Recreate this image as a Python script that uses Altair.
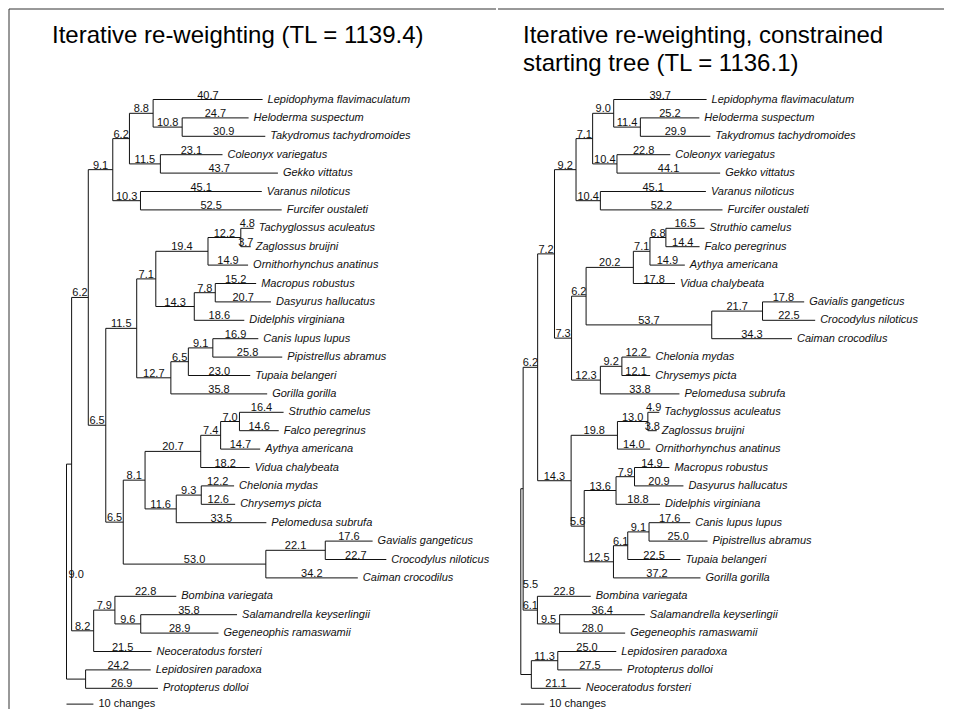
import altair as alt
import pandas as pd

# ---------------- data ----------------
LEFT_TITLE = "Iterative re-weighting (TL = 1139.4)"
RIGHT_TITLE = ["Iterative re-weighting, constrained", "starting tree (TL = 1136.1)"]
SCALE_LABEL = "10 changes"
SCALE_CHANGES = 10

LEFT_TAXA = [
    "Lepidophyma flavimaculatum", "Heloderma suspectum", "Takydromus tachydromoides",
    "Coleonyx variegatus", "Gekko vittatus", "Varanus niloticus", "Furcifer oustaleti",
    "Tachyglossus aculeatus", "Zaglossus bruijni", "Ornithorhynchus anatinus",
    "Macropus robustus", "Dasyurus hallucatus", "Didelphis virginiana",
    "Canis lupus lupus", "Pipistrellus abramus", "Tupaia belangeri", "Gorilla gorilla",
    "Struthio camelus", "Falco peregrinus", "Aythya americana", "Vidua chalybeata",
    "Chelonia mydas", "Chrysemys picta", "Pelomedusa subrufa",
    "Gavialis gangeticus", "Crocodylus niloticus", "Caiman crocodilus",
    "Bombina variegata", "Salamandrella keyserlingii", "Gegeneophis ramaswamii",
    "Neoceratodus forsteri", "Lepidosiren paradoxa", "Protopterus dolloi",
]
LEFT_TIP_LENGTHS = [
    40.7, 24.7, 30.9, 23.1, 43.7, 45.1, 52.5,
    4.8, 3.7, 14.9, 15.2, 20.7, 18.6, 16.9, 25.8, 23.0, 35.8,
    16.4, 14.6, 14.7, 18.2, 12.2, 12.6, 33.5, 17.6, 22.7, 34.2,
    22.8, 35.8, 28.9, 21.5, 24.2, 26.9,
]
# internal branches: tip-row span of the clade and the branch length leading to it
LEFT_CLADE_SPANS = [
    (2, 3), (1, 3), (4, 5), (1, 5), (6, 7), (1, 7),
    (8, 9), (8, 10), (11, 12), (11, 13), (8, 13), (14, 15), (14, 16), (14, 17), (8, 17),
    (18, 19), (18, 20), (18, 21), (22, 23), (22, 24), (18, 24), (25, 26), (25, 27),
    (18, 27), (8, 27), (1, 27), (29, 30), (28, 30), (28, 31), (1, 31), (32, 33),
]
LEFT_CLADE_LENGTHS = [
    10.8, 8.8, 11.5, 6.2, 10.3, 9.1,
    12.2, 19.4, 7.8, 14.3, 7.1, 9.1, 6.5, 12.7, 11.5,
    7.0, 7.4, 20.7, 9.3, 11.6, 8.1, 22.1, 53.0,
    6.5, 6.5, 6.2, 9.6, 7.9, 8.2, 1.9, 7.1,
]

RIGHT_TAXA = [
    "Lepidophyma flavimaculatum", "Heloderma suspectum", "Takydromus tachydromoides",
    "Coleonyx variegatus", "Gekko vittatus", "Varanus niloticus", "Furcifer oustaleti",
    "Struthio camelus", "Falco peregrinus", "Aythya americana", "Vidua chalybeata",
    "Gavialis gangeticus", "Crocodylus niloticus", "Caiman crocodilus",
    "Chelonia mydas", "Chrysemys picta", "Pelomedusa subrufa",
    "Tachyglossus aculeatus", "Zaglossus bruijni", "Ornithorhynchus anatinus",
    "Macropus robustus", "Dasyurus hallucatus", "Didelphis virginiana",
    "Canis lupus lupus", "Pipistrellus abramus", "Tupaia belangeri", "Gorilla gorilla",
    "Bombina variegata", "Salamandrella keyserlingii", "Gegeneophis ramaswamii",
    "Lepidosiren paradoxa", "Protopterus dolloi", "Neoceratodus forsteri",
]
RIGHT_TIP_LENGTHS = [
    39.7, 25.2, 29.9, 22.8, 44.1, 45.1, 52.2,
    16.5, 14.4, 14.9, 17.8, 17.8, 22.5, 34.3, 12.2, 12.1, 33.8,
    4.9, 3.8, 14.0, 14.9, 20.9, 18.8, 17.6, 25.0, 22.5, 37.2,
    22.8, 36.4, 28.0, 25.0, 27.5, 21.1,
]
RIGHT_CLADE_SPANS = [
    (2, 3), (1, 3), (4, 5), (1, 5), (6, 7), (1, 7),
    (8, 9), (8, 10), (8, 11), (12, 13), (12, 14), (8, 14), (15, 16), (15, 17), (8, 17),
    (1, 17), (18, 19), (18, 20), (21, 22), (21, 23), (24, 25), (24, 26), (24, 27),
    (21, 27), (18, 27), (1, 27), (29, 30), (28, 30), (1, 30), (31, 32), (31, 33),
]
RIGHT_CLADE_LENGTHS = [
    11.4, 9.0, 10.4, 7.1, 10.4, 9.2,
    6.8, 7.1, 20.2, 21.7, 53.7, 6.2, 9.2, 12.3, 7.3,
    7.2, 13.0, 19.8, 7.9, 13.6, 9.1, 6.1, 12.5,
    5.6, 14.3, 6.2, 9.5, 6.1, 1.0, 11.3, 4.5,
]

# ---------------- layout constants ----------------
FONT = "Liberation Sans"
INK = "#111111"
PANEL_H = 700
ROW_PX = 18.4
FIRST_ROW_PX = 90.5
LEFT_W, RIGHT_W = 486, 446
LEFT_ROOT_PX, LEFT_PX_PER_CHANGE = 57.5, 2.69
RIGHT_ROOT_PX, RIGHT_PX_PER_CHANGE = 22.8, 2.34


def build_tree(taxa, tip_len, spans, clade_len):
    n = len(taxa)
    nodes = [dict(lo=i + 1, hi=i + 1, length=l, tip=True, name=t)
             for i, (t, l) in enumerate(zip(taxa, tip_len))]
    nodes += [dict(lo=lo, hi=hi, length=l, tip=False, name="")
              for (lo, hi), l in zip(spans, clade_len)]
    nodes.append(dict(lo=1, hi=n, length=0.0, tip=False, name="", root=True))
    width = lambda d: d["hi"] - d["lo"]
    for i, nd in enumerate(nodes):
        best = None
        for j, o in enumerate(nodes):
            if j == i or o["tip"]:
                continue
            if o["lo"] <= nd["lo"] and nd["hi"] <= o["hi"] and width(o) > width(nd):
                if best is None or width(o) < width(nodes[best]):
                    best = j
        nd["parent"] = best
    children = {i: [] for i in range(len(nodes))}
    for i, nd in enumerate(nodes):
        if nd["parent"] is not None:
            children[nd["parent"]].append(i)
    for k in children:
        children[k].sort(key=lambda c: nodes[c]["lo"])
    order = sorted(range(len(nodes)), key=lambda i: -width(nodes[i]))
    for i in order:
        p = nodes[i]["parent"]
        nodes[i]["x"] = 0.0 if p is None else nodes[p]["x"] + nodes[i]["length"]
    for i in reversed(order):
        nd = nodes[i]
        if nd["tip"]:
            nd["y"] = float(nd["lo"])
        else:
            ch = children[i]
            nd["y"] = (nodes[ch[0]]["y"] + nodes[ch[-1]]["y"]) / 2
    root = len(nodes) - 1

    segs, blabels, tips = [], [], []
    for i, nd in enumerate(nodes):
        p = nd["parent"]
        if p is not None:
            segs.append(dict(x=nodes[p]["x"], x2=nd["x"], y=nd["y"], y2=nd["y"]))
            if p != root:
                blabels.append(dict(x=(nodes[p]["x"] + nd["x"]) / 2, y=nd["y"],
                                    text=f"{nd['length']:.1f}"))
        if not nd["tip"]:
            ch = children[i]
            segs.append(dict(x=nd["x"], x2=nd["x"], y=nodes[ch[0]]["y"], y2=nodes[ch[-1]]["y"]))
        else:
            tips.append(dict(x=nd["x"], y=nd["y"], text=nd["name"]))
    root_len = sum(nodes[c]["length"] for c in children[root])
    rootlab = [dict(x=nodes[root]["x"], y=nodes[root]["y"], text=f"{root_len:.1f}")]
    bar = [dict(x=0.0, x2=float(SCALE_CHANGES), y=n + 0.86, y2=n + 0.86, text=SCALE_LABEL)]
    return (pd.DataFrame(segs), pd.DataFrame(blabels), pd.DataFrame(tips),
            pd.DataFrame(rootlab), pd.DataFrame(bar))


def panel(taxa, tip_len, spans, clade_len, width, root_px, ppc, title, title_dx,
          title_offset, left_border):
    segs, blabels, tips, rootlab, bar = build_tree(taxa, tip_len, spans, clade_len)
    xs = alt.Scale(domain=[-root_px / ppc, (width - root_px) / ppc], nice=False, zero=False)
    r0 = 1 - FIRST_ROW_PX / ROW_PX
    ys = alt.Scale(domain=[r0, r0 + PANEL_H / ROW_PX], nice=False, zero=False, reverse=True)
    X = lambda f: alt.X(f, type="quantitative", scale=xs, axis=None)
    Y = lambda f: alt.Y(f, type="quantitative", scale=ys, axis=None)

    branches = alt.Chart(segs).mark_rule(color=INK, strokeWidth=1).encode(
        x=X("x"), x2="x2", y=Y("y"), y2="y2")
    blab = alt.Chart(blabels).mark_text(
        font=FONT, fontSize=11, color=INK, align="center", baseline="alphabetic", dy=-1
    ).encode(x=X("x"), y=Y("y"), text="text:N")
    tlab = alt.Chart(tips).mark_text(
        font=FONT, fontSize=11, fontStyle="italic", color=INK, align="left",
        baseline="middle", dx=5
    ).encode(x=X("x"), y=Y("y"), text="text:N")
    rlab = alt.Chart(rootlab).mark_text(
        font=FONT, fontSize=11, color=INK, align="left", baseline="middle", dx=2, dy=3
    ).encode(x=X("x"), y=Y("y"), text="text:N")
    sbar = alt.Chart(bar).mark_rule(color=INK, strokeWidth=1).encode(
        x=X("x"), x2="x2", y=Y("y"))
    stext = alt.Chart(bar).mark_text(
        font=FONT, fontSize=11, color=INK, align="left", baseline="middle", dx=5
    ).encode(x=X("x2"), y=Y("y"), text="text:N")

    frame_df = pd.DataFrame({"k": [0]})
    layers = [
        alt.Chart(frame_df).mark_rule(color="#333333", strokeWidth=1).encode(
            x=alt.value(0), x2=alt.value(width + (1 if left_border else 0)), y=alt.value(0)),
    ]
    if left_border:
        layers.append(alt.Chart(frame_df).mark_rule(color="#333333", strokeWidth=1).encode(
            x=alt.value(0), y=alt.value(0), y2=alt.value(PANEL_H)))
    layers += [branches, blab, tlab, rlab, sbar, stext]
    return alt.layer(*layers).properties(
        width=width, height=PANEL_H,
        title=alt.Title(text=title, anchor="start", orient="top", offset=title_offset,
                        dx=title_dx, baseline="top", fontSize=24, font=FONT,
                        fontWeight="normal", color="black", lineHeight=28),
    )


left = panel(LEFT_TAXA, LEFT_TIP_LENGTHS, LEFT_CLADE_SPANS, LEFT_CLADE_LENGTHS,
             LEFT_W, LEFT_ROOT_PX, LEFT_PX_PER_CHANGE, LEFT_TITLE, 43.5, -39.5, True)
right = panel(RIGHT_TAXA, RIGHT_TIP_LENGTHS, RIGHT_CLADE_SPANS, RIGHT_CLADE_LENGTHS,
              RIGHT_W, RIGHT_ROOT_PX, RIGHT_PX_PER_CHANGE, RIGHT_TITLE, 25.5, -67.5, False)

chart = alt.hconcat(left, right, spacing=0).properties(padding=0).configure_view(stroke=None)
chart.save("out.html", embed_options={"renderer": "svg", "actions": False})
